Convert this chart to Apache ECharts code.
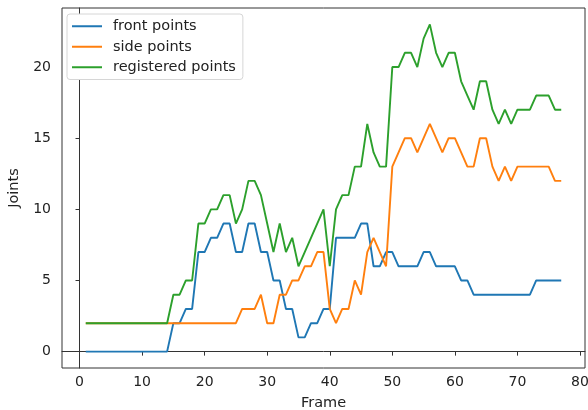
<!DOCTYPE html>
<html>
<head>
<meta charset="utf-8">
<script src="https://cdn.jsdelivr.net/npm/echarts@6/dist/echarts.min.js"></script>
<style>
  html, body { margin: 0; padding: 0; background: #fff; }
  #chart { width: 588px; height: 410px; }
</style>
</head>
<body>
<div id="chart"></div>
<script>
// Frames 1..77
const frames = [];
for (let i = 1; i <= 77; i++) frames.push(i);

const frontPoints = [
  0,0,0,0,0,0,0,0,0,0,0,0,0,0,
  2,2,3,3,7,7,8,8,9,9,7,7,9,9,7,7,5,5,3,3,1,1,2,2,3,3,
  8,8,8,8,9,9,6,6,7,7,6,6,6,6,7,7,6,6,6,6,5,5,
  4,4,4,4,4,4,4,4,4,4,
  5,5,5,5,5
];
const sidePoints = [
  2,2,2,2,2,2,2,2,2,2,2,2,2,2,2,2,2,2,2,2,2,2,2,2,2,
  3,3,3,4,2,2,4,4,5,5,6,6,7,7,3,2,3,3,5,4,7,8,7,6,
  13,14,15,15,14,15,16,15,14,15,15,14,13,13,15,15,13,12,13,12,
  13,13,13,13,13,13,12,12
];
const registeredPoints = [
  2,2,2,2,2,2,2,2,2,2,2,2,2,2,
  4,4,5,5,9,9,10,10,11,11,9,10,12,12,11,9,7,9,7,8,6,7,8,9,10,6,
  10,11,11,13,13,16,14,13,13,20,20,21,21,20,22,23,21,20,21,21,19,18,
  17,19,19,17,16,17,16,17,17,17,18,18,18,17,17
];

const xTicks = [0, 10, 20, 30, 40, 50, 60, 70, 80];
const yTicks = [0, 5, 10, 15, 20];
const seriesNames = ['front points', 'side points', 'registered points'];
const colors = ['#1f77b4', '#ff7f0e', '#2ca02c'];

function pairs(vals) { return frames.map((f, i) => [f, vals[i]]); }

const chart = echarts.init(document.getElementById('chart'), null, { renderer: 'canvas' });
const font = 'DejaVu Sans';
chart.setOption({
  animation: false,
  color: colors,
  grid: { left: 62, right: 3, top: 8, bottom: 42, containLabel: false, outerBoundsMode: 'none', show: true, borderColor: '#333', borderWidth: 1, backgroundColor: '#fff' },
  legend: {
    orient: 'vertical', left: 67, top: 14,
    data: seriesNames,
    icon: 'rect',
    itemWidth: 30, itemHeight: 2, itemGap: 4,
    padding: [4, 7, 4, 5],
    backgroundColor: '#fff', borderColor: '#d6d6d6', borderWidth: 1, borderRadius: 3,
    textStyle: { fontFamily: font, fontSize: 14.5, lineHeight: 16.5, color: '#222', padding: [0, 0, 0, 6] }
  },
  xAxis: {
    type: 'value', min: -2.8, max: 80.8,
    name: 'Frame', nameLocation: 'middle', nameGap: 28,
    nameTextStyle: { fontFamily: font, fontSize: 14.5, color: '#222' },
    axisLine: { show: true, lineStyle: { color: '#333', width: 1 } },
    axisTick: { show: true, length: 4, lineStyle: { color: '#333' }, customValues: xTicks },
    axisLabel: { fontFamily: font, fontSize: 14, color: '#222', margin: 7, customValues: xTicks },
    splitLine: { show: false }
  },
  yAxis: {
    type: 'value', min: -1.15, max: 24.15,
    name: 'Joints', nameLocation: 'middle', nameGap: 40, nameRotate: 90,
    nameTextStyle: { fontFamily: font, fontSize: 14.5, color: '#222' },
    axisLine: { show: true, lineStyle: { color: '#333', width: 1 } },
    axisTick: { show: true, length: 4, lineStyle: { color: '#333' }, customValues: yTicks },
    axisLabel: { fontFamily: font, fontSize: 14, color: '#222', margin: 11, customValues: yTicks },
    splitLine: { show: false }
  },
  series: [
    { name: seriesNames[0], type: 'line', data: pairs(frontPoints), symbol: 'none', lineStyle: { width: 1.9, color: colors[0] } },
    { name: seriesNames[1], type: 'line', data: pairs(sidePoints), symbol: 'none', lineStyle: { width: 1.9, color: colors[1] } },
    { name: seriesNames[2], type: 'line', data: pairs(registeredPoints), symbol: 'none', lineStyle: { width: 1.9, color: colors[2] } }
  ]
});
</script>
</body>
</html>
